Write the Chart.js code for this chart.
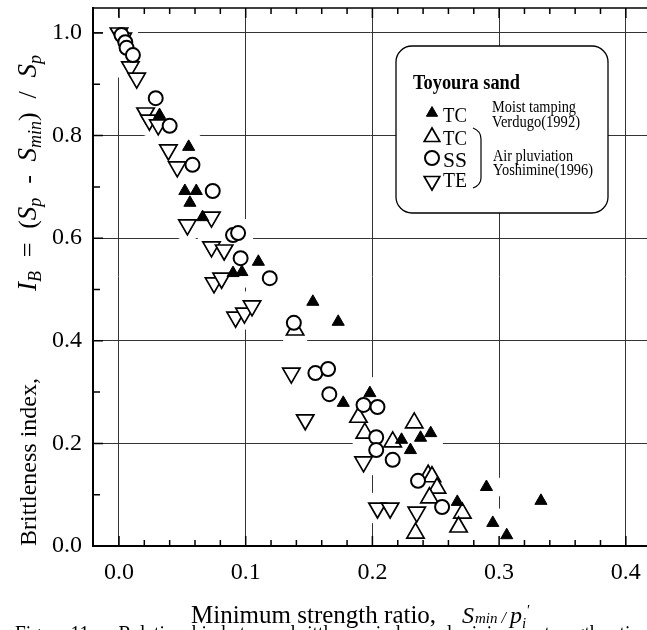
<!DOCTYPE html>
<html>
<head>
<meta charset="utf-8">
<script src="https://cdn.jsdelivr.net/npm/chart.js@4.4.1/dist/chart.umd.min.js"></script>
<style>
html, body { margin: 0; padding: 0; background: #fff; overflow: hidden; }
#wrap { position: relative; width: 647px; height: 630px; }
</style>
</head>
<body>
<div id="wrap"><canvas id="c" width="647" height="630"></canvas></div>
<script>
// axis ticks
const xTicks = [0, 0.1, 0.2, 0.3, 0.4];
const xTickLabels = ['0.0', '0.1', '0.2', '0.3', '0.4'];
const yTicks = [0, 0.2, 0.4, 0.6, 0.8, 1.0];
const yTickLabels = ['0.0', '0.2', '0.4', '0.6', '0.8', '1.0'];

// [Smin/p', IB]
const tcMoist = [
    [0.032, 0.840], [0.055, 0.778], [0.052, 0.692], [0.061, 0.692], [0.056, 0.669],
    [0.066, 0.641], [0.090, 0.532], [0.097, 0.534], [0.110, 0.554], [0.153, 0.476],
    [0.173, 0.437], [0.177, 0.279], [0.198, 0.298], [0.223, 0.207], [0.230, 0.187],
    [0.238, 0.211], [0.246, 0.220], [0.267, 0.086], [0.290, 0.115], [0.295, 0.045],
    [0.306, 0.021], [0.333, 0.088]
];
const tcAir = [
    [0.139, 0.421], [0.189, 0.251], [0.194, 0.220], [0.216, 0.203], [0.233, 0.240],
    [0.244, 0.138], [0.247, 0.135], [0.251, 0.113], [0.245, 0.094], [0.271, 0.064],
    [0.268, 0.037], [0.234, 0.025]
];
const ssAir = [
    [0.002, 0.996], [0.005, 0.982], [0.006, 0.971], [0.011, 0.957], [0.029, 0.873],
    [0.040, 0.819], [0.058, 0.743], [0.074, 0.692], [0.090, 0.606], [0.094, 0.610],
    [0.096, 0.561], [0.119, 0.522], [0.138, 0.435], [0.155, 0.337], [0.165, 0.345],
    [0.166, 0.296], [0.193, 0.275], [0.204, 0.271], [0.203, 0.212], [0.203, 0.187],
    [0.216, 0.168], [0.236, 0.127], [0.255, 0.076]
];
const teAir = [
    [0.000, 1.000], [0.003, 0.990], [0.009, 0.934], [0.014, 0.912], [0.021, 0.844],
    [0.024, 0.830], [0.031, 0.821], [0.039, 0.772], [0.046, 0.739], [0.054, 0.626],
    [0.073, 0.641], [0.073, 0.583], [0.083, 0.577], [0.075, 0.513], [0.081, 0.522],
    [0.092, 0.446], [0.099, 0.454], [0.105, 0.468], [0.136, 0.337], [0.147, 0.246],
    [0.193, 0.164], [0.204, 0.074], [0.214, 0.074], [0.235, 0.066]
];

const legendTitle = 'Toyoura sand';
const legendLabels = ['TC', 'TC', 'SS', 'TE'];
const moistNote = ['Moist tamping', 'Verdugo(1992)'];
const airNote = ['Air pluviation', 'Yoshimine(1996)'];
const caption = 'Figure 11      Relationship between brittleness index and minimum strength ratio';

const SERIF = "'Liberation Serif', 'Times New Roman', serif";
const toPts = arr => arr.map(p => ({x: p[0], y: p[1]}));

// marker styles shared by plot and legend box
const mkFilled = {pointStyle: 'triangle', radius: 7, rotation: 0, borderWidth: 1, fill: '#000'};
const mkUp = {pointStyle: 'triangle', radius: 10, rotation: 0, borderWidth: 1.7, fill: '#fff'};
const mkCircle = {pointStyle: 'circle', radius: 7, rotation: 0, borderWidth: 2, fill: '#fff'};
const mkDown = {pointStyle: 'triangle', radius: 10, rotation: 180, borderWidth: 1.7, fill: '#fff'};

function ds(label, arr, mk) {
    return {
        label: label,
        data: toPts(arr),
        pointStyle: mk.pointStyle,
        pointRadius: mk.radius,
        pointRotation: mk.rotation,
        pointBorderWidth: mk.borderWidth,
        pointBackgroundColor: mk.fill,
        pointBorderColor: '#000',
        showLine: false
    };
}

// white patch under every marker, it breaks the grid lines like the original plot
const halo = {
    label: 'halo',
    data: toPts([...tcMoist, ...tcAir, ...ssAir, ...teAir]),
    pointStyle: 'circle',
    pointRadius: 16,
    pointBorderWidth: 0,
    pointBackgroundColor: '#fff',
    pointBorderColor: '#fff',
    showLine: false
};

function part(ctx, text, x, y, font) {
    ctx.font = font;
    ctx.fillText(text, x, y);
    return x + ctx.measureText(text).width;
}

// draw text runs spread out to a given total length; gaps only before runs flagged g
function spread(ctx, runs, x0, total) {
    let w = 0, gaps = 0;
    for (const r of runs) {
        ctx.font = r.f;
        w += ctx.measureText(r.t).width;
        if (r.g) gaps++;
    }
    const extra = gaps ? Math.max(0, total - w) / gaps : 0;
    let x = x0;
    for (const r of runs) {
        if (r.g) x += extra;
        x = part(ctx, r.t, x, r.dy || 0, r.f);
    }
}

const decor = {
    id: 'decor',
    afterDraw(chart) {
        const ctx = chart.ctx;
        const a = chart.chartArea;
        const xs = chart.scales.x, ys = chart.scales.y;
        ctx.save();
        ctx.strokeStyle = '#000';
        ctx.fillStyle = '#000';

        // frame: top, left, bottom
        ctx.lineWidth = 1.5;
        ctx.beginPath();
        ctx.moveTo(a.left, a.top);
        ctx.lineTo(a.right, a.top);
        ctx.stroke();
        ctx.lineWidth = 2;
        ctx.beginPath();
        ctx.moveTo(a.left, a.top);
        ctx.lineTo(a.left, a.bottom);
        ctx.lineTo(a.right, a.bottom);
        ctx.stroke();

        // inward ticks
        ctx.lineWidth = 1.5;
        ctx.beginPath();
        for (let i = 0; i <= 20; i++) {
            const px = xs.getPixelForValue(i * 0.02);
            const len = i % 5 === 0 ? 10 : 6;
            ctx.moveTo(px, a.bottom); ctx.lineTo(px, a.bottom - len);
            ctx.moveTo(px, a.top); ctx.lineTo(px, a.top + len);
        }
        for (let i = 0; i <= 10; i++) {
            const py = ys.getPixelForValue(i * 0.1);
            const len = i % 2 === 0 ? 10 : 7;
            ctx.moveTo(a.left, py); ctx.lineTo(a.left + len, py);
        }
        ctx.stroke();

        // legend box
        ctx.beginPath();
        ctx.roundRect(396, 46, 212, 167, 16);
        ctx.fillStyle = '#fff';
        ctx.fill();
        ctx.lineWidth = 1.3;
        ctx.stroke();
        ctx.fillStyle = '#000';
        ctx.textBaseline = 'alphabetic';
        ctx.textAlign = 'left';
        ctx.font = 'bold 20px ' + SERIF;
        ctx.fillText(legendTitle, 413, 89, 107);

        const marks = [mkFilled, mkUp, mkCircle, mkDown];
        const my = [113, 137, 158, 181];
        const by = [122, 145, 167, 187];
        for (let i = 0; i < 4; i++) {
            const mk = marks[i];
            ctx.fillStyle = mk.fill;
            ctx.strokeStyle = '#000';
            ctx.lineWidth = mk.borderWidth;
            Chart.helpers.drawPoint(ctx, {
                pointStyle: mk.pointStyle, rotation: mk.rotation,
                radius: i === 0 ? 6.5 : (i === 2 ? 7 : 9), borderWidth: mk.borderWidth
            }, 432, my[i]);
            ctx.fillStyle = '#000';
            ctx.font = '22px ' + SERIF;
            ctx.fillText(legendLabels[i], 443, by[i], 24);
        }
        ctx.font = '16px ' + SERIF;
        ctx.fillText(moistNote[0], 492, 112, 84);
        ctx.fillText(moistNote[1], 492, 127, 88);
        ctx.fillText(airNote[0], 493, 161, 80);
        ctx.fillText(airNote[1], 493, 175, 100);

        // bracket
        ctx.lineWidth = 1.2;
        ctx.beginPath();
        ctx.moveTo(473, 128);
        ctx.quadraticCurveTo(481, 131, 481, 139);
        ctx.lineTo(481, 178);
        ctx.quadraticCurveTo(481, 185, 473, 188);
        ctx.stroke();

        // x axis title
        const fr = '25px ' + SERIF, fs = 'italic 15px ' + SERIF;
        let x = 191;
        const yb = 623;
        ctx.font = fr;
        ctx.fillText('Minimum strength ratio,', x, yb, 246);
        x = 462;
        x = part(ctx, 'S', x, yb, 'italic 24px ' + SERIF);
        x = part(ctx, 'min', x + 1, yb, fs);
        x = part(ctx, ' / ', x, yb, 'italic 16px ' + SERIF);
        x = part(ctx, 'p', x, yb, 'italic 24px ' + SERIF);
        x = part(ctx, 'i', x, yb + 5, fs);
        part(ctx, "'", x, yb - 8, fs);

        // y axis title (rotated)
        ctx.save();
        ctx.translate(36, 546);
        ctx.rotate(-Math.PI / 2);
        ctx.font = '24px ' + SERIF;
        ctx.fillText('Brittleness index,', 0, 0, 230);
        const fI = 'italic 27px ' + SERIF, fSub = 'italic 18px ' + SERIF, fR = '26px ' + SERIF;
        spread(ctx, [
            {t: 'I', f: fI},
            {t: 'B', f: fSub, dy: 5},
            {t: '=', f: fR, g: true},
            {t: '(', f: fR, g: true},
            {t: 'S', f: fI},
            {t: 'p', f: fSub, dy: 5},
            {t: '-', f: fR, g: true},
            {t: 'S', f: fI, g: true},
            {t: 'min', f: fSub, dy: 5},
            {t: ')', f: fR},
            {t: '/', f: fR, g: true},
            {t: 'S', f: fI, g: true},
            {t: 'p', f: fSub, dy: 5}
        ], 255, 236);
        ctx.restore();

        // caption (cut off at the bottom edge)
        ctx.font = '24px ' + SERIF;
        ctx.fillText(caption, 15, 641, 625);
        ctx.restore();
    }
};

const ctx = document.getElementById('c').getContext('2d');
new Chart(ctx, {
    type: 'scatter',
    data: {
        datasets: [
            ds('TC  Moist tamping Verdugo(1992)', tcMoist, mkFilled),
            ds('SS  Air pluviation Yoshimine(1996)', ssAir, mkCircle),
            ds('TC  Air pluviation Yoshimine(1996)', tcAir, mkUp),
            ds('TE  Air pluviation Yoshimine(1996)', teAir, mkDown),
            halo
        ]
    },
    options: {
        responsive: false,
        animation: false,
        layout: {autoPadding: false, padding: {top: 8, left: 0, right: 0, bottom: 0}},
        plugins: {legend: {display: false}, tooltip: {enabled: false}},
        scales: {
            x: {
                type: 'linear',
                min: -0.0205,
                max: 0.4167,
                afterBuildTicks: s => { s.ticks = xTicks.map(v => ({value: v})); },
                afterFit: s => { s.height = 84; s.paddingLeft = 0; s.paddingRight = 0; },
                ticks: {
                    callback: (v, i) => xTickLabels[i],
                    font: {family: SERIF, size: 24},
                    color: '#000',
                    padding: 12,
                    maxRotation: 0,
                    autoSkip: false
                },
                grid: {color: '#333', lineWidth: 1, drawTicks: false},
                border: {color: '#000', width: 2}
            },
            y: {
                type: 'linear',
                min: 0,
                max: 1.0487,
                afterBuildTicks: s => { s.ticks = yTicks.map(v => ({value: v})); },
                afterFit: s => { s.width = 93; s.paddingTop = 0; s.paddingBottom = 0; },
                ticks: {
                    callback: (v, i) => yTickLabels[i],
                    font: {family: SERIF, size: 24},
                    color: '#000',
                    padding: 11,
                    autoSkip: false
                },
                grid: {color: '#333', lineWidth: 1, drawTicks: false},
                border: {color: '#000', width: 2}
            }
        }
    },
    plugins: [decor]
});
</script>
</body>
</html>
